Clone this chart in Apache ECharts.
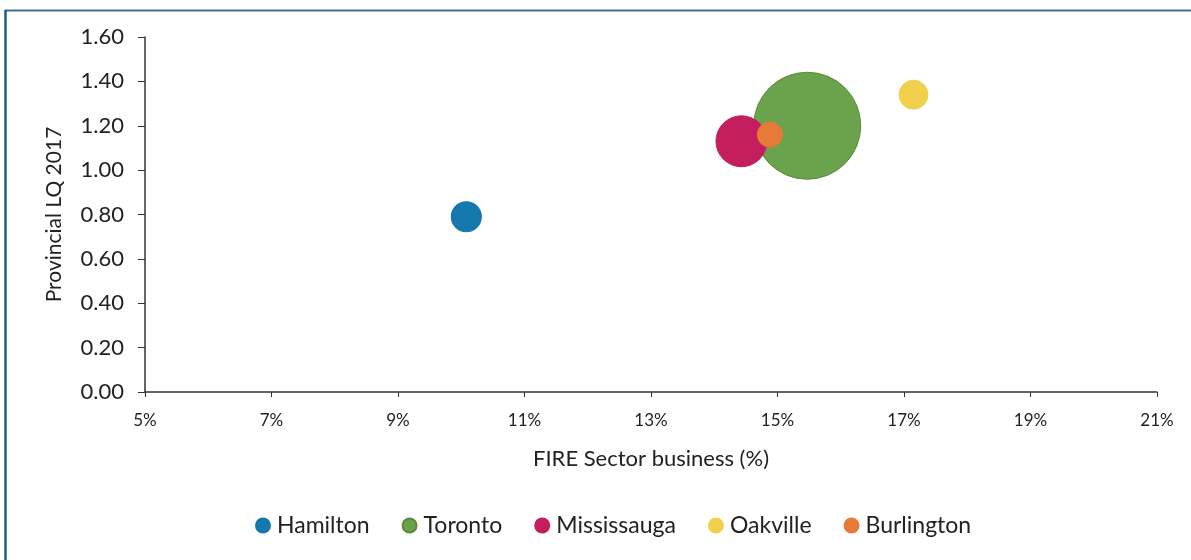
<!DOCTYPE html>
<html>
<head>
<meta charset="utf-8">
<script src="https://cdn.jsdelivr.net/npm/echarts@6/dist/echarts.min.js"></script>
<style>
  html, body { margin: 0; padding: 0; background: #fff; }
  #chart { width: 1191px; height: 560px; }
</style>
</head>
<body>
<div id="chart"></div>
<script>
// Cities and their bubble values
const cities = ['Hamilton', 'Toronto', 'Mississauga', 'Oakville', 'Burlington'];
const fireShare = [10.08, 15.47, 14.43, 17.15, 14.88];   // FIRE sector business, %
const lq2017 = [0.79, 1.20, 1.13, 1.34, 1.16];           // provincial location quotient
const bubbleSize = [7.9, 100, 22.7, 7.3, 5.5];           // relative bubble area
const colors = ['#1677ad', '#6aa34b', '#c41e5e', '#f0d04c', '#e67a38'];

const font = 'Lato, "Open Sans", "DejaVu Sans", sans-serif';

const series = cities.map((name, i) => ({
  name: name,
  type: 'scatter',
  data: [[fireShare[i], lq2017[i], bubbleSize[i]]],
  symbolSize: d => Math.sqrt(d[2]) * 10.7,
  itemStyle: {
    color: colors[i],
    opacity: 1,
    borderColor: i === 1 ? '#5a8a3c' : colors[i],
    borderWidth: 1
  },
  z: 2 + i
}));

const chart = echarts.init(document.getElementById('chart'), null, { renderer: 'canvas' });
chart.setOption({
  animation: false,
  backgroundColor: '#ffffff',
  grid: { left: 145, right: 34, top: 37, bottom: 168 },
  xAxis: {
    type: 'value',
    min: 5, max: 21, interval: 2,
    name: 'FIRE Sector business (%)',
    nameLocation: 'middle',
    nameGap: 56,
    nameTextStyle: { fontFamily: font, fontSize: 22, color: '#222' },
    axisLine: { show: true, lineStyle: { color: '#333', width: 1.5 } },
    axisTick: { show: true, inside: false, length: 5, lineStyle: { color: '#333' } },
    axisLabel: { formatter: '{value}%', fontFamily: font, fontSize: 17, color: '#222', margin: 20 },
    splitLine: { show: false }
  },
  yAxis: {
    type: 'value',
    min: 0, max: 1.6, interval: 0.2,
    name: 'Provincial LQ 2017',
    nameLocation: 'middle',
    nameGap: 80,
    nameTextStyle: { fontFamily: font, fontSize: 21, color: '#222' },
    axisLine: { show: true, lineStyle: { color: '#333', width: 1.5 } },
    axisTick: { show: true, inside: false, length: 7, lineStyle: { color: '#333' } },
    axisLabel: { formatter: v => v.toFixed(2), fontFamily: font, fontSize: 22, color: '#222', margin: 21 },
    splitLine: { show: false }
  },
  legend: {
    data: cities,
    top: 509,
    left: 250,
    icon: 'circle',
    itemWidth: 14,
    itemHeight: 14,
    itemGap: 32,
    textStyle: { fontFamily: font, fontSize: 23, color: '#222', padding: [0, 0, 0, 2] }
  },
  graphic: [
    {
      type: 'line',
      shape: { x1: 5, y1: 10.5, x2: 1191, y2: 10.5 },
      style: { stroke: '#3d6f92', lineWidth: 2 },
      silent: true
    },
    {
      type: 'line',
      shape: { x1: 5.5, y1: 10, x2: 5.5, y2: 560 },
      style: { stroke: '#1f5a8f', lineWidth: 2.5 },
      silent: true
    }
  ],
  series: series
});
</script>
</body>
</html>
